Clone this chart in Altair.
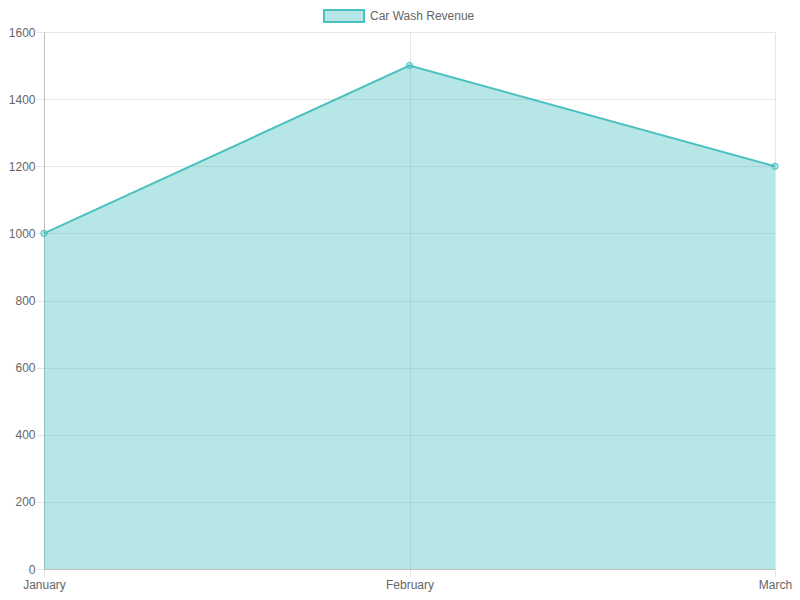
import altair as alt
import pandas as pd

months = ["January", "February", "March"]
revenue = [1000, 1500, 1200]
series_name = "Car Wash Revenue"
y_ticks = [0, 200, 400, 600, 800, 1000, 1200, 1400, 1600]

TEAL = "rgb(75,192,192)"
TEAL_FILL = "rgba(75,192,192,0.4)"
FONT = "Liberation Sans"

df = pd.DataFrame({"month": months, "revenue": revenue, "series": [series_name] * len(months)})

x = alt.X(
    "month:N",
    sort=months,
    scale=alt.Scale(type="point", padding=0),
    axis=alt.Axis(
        title=None, labelAngle=0, grid=True, gridColor="#e6e6e6",
        tickSize=8, tickColor="#e6e6e6", domainColor="#bfbfbf",
        labelPadding=2, labelFont=FONT, labelFontSize=12, labelColor="#666666",
    ),
)
y = alt.Y(
    "revenue:Q",
    scale=alt.Scale(domain=[0, 1600], nice=False),
    axis=alt.Axis(
        title=None, values=y_ticks, format="d", grid=True, gridColor="#e6e6e6",
        tickSize=8, tickColor="#e6e6e6", domainColor="#bfbfbf",
        labelPadding=1, labelFont=FONT, labelFontSize=12, labelColor="#666666",
    ),
)

area = alt.Chart(df).mark_area(opacity=1).encode(
    x=x, y=y,
    fill=alt.Fill(
        "series:N",
        scale=alt.Scale(domain=[series_name], range=[TEAL_FILL]),
        legend=alt.Legend(
            title=None, orient="none", legendX=279, legendY=-37,
            symbolType="M-1,-0.3H1V0.3H-1Z", symbolSize=1600,
            symbolStrokeColor=TEAL, symbolStrokeWidth=2, symbolOpacity=1,
            labelFont=FONT, labelFontSize=12, labelColor="#666666",
            labelOffset=5, padding=0,
        ),
    ),
)
line = alt.Chart(df).mark_line(color=TEAL, strokeWidth=2).encode(x=x, y=y)
points = alt.Chart(df).mark_point(
    shape="circle", size=40, filled=False, fill=TEAL_FILL, fillOpacity=1,
    stroke=TEAL, strokeWidth=1, opacity=1,
).encode(x=x, y=y)

chart = alt.layer(area, line, points).properties(
    width=731, height=537,
    autosize=alt.AutoSizeParams(type="none"),
    padding={"left": 36, "top": 24, "right": 17, "bottom": 23},
).configure_view(stroke=None)

chart.save("out.html", embed_options={"renderer": "svg", "actions": False})
